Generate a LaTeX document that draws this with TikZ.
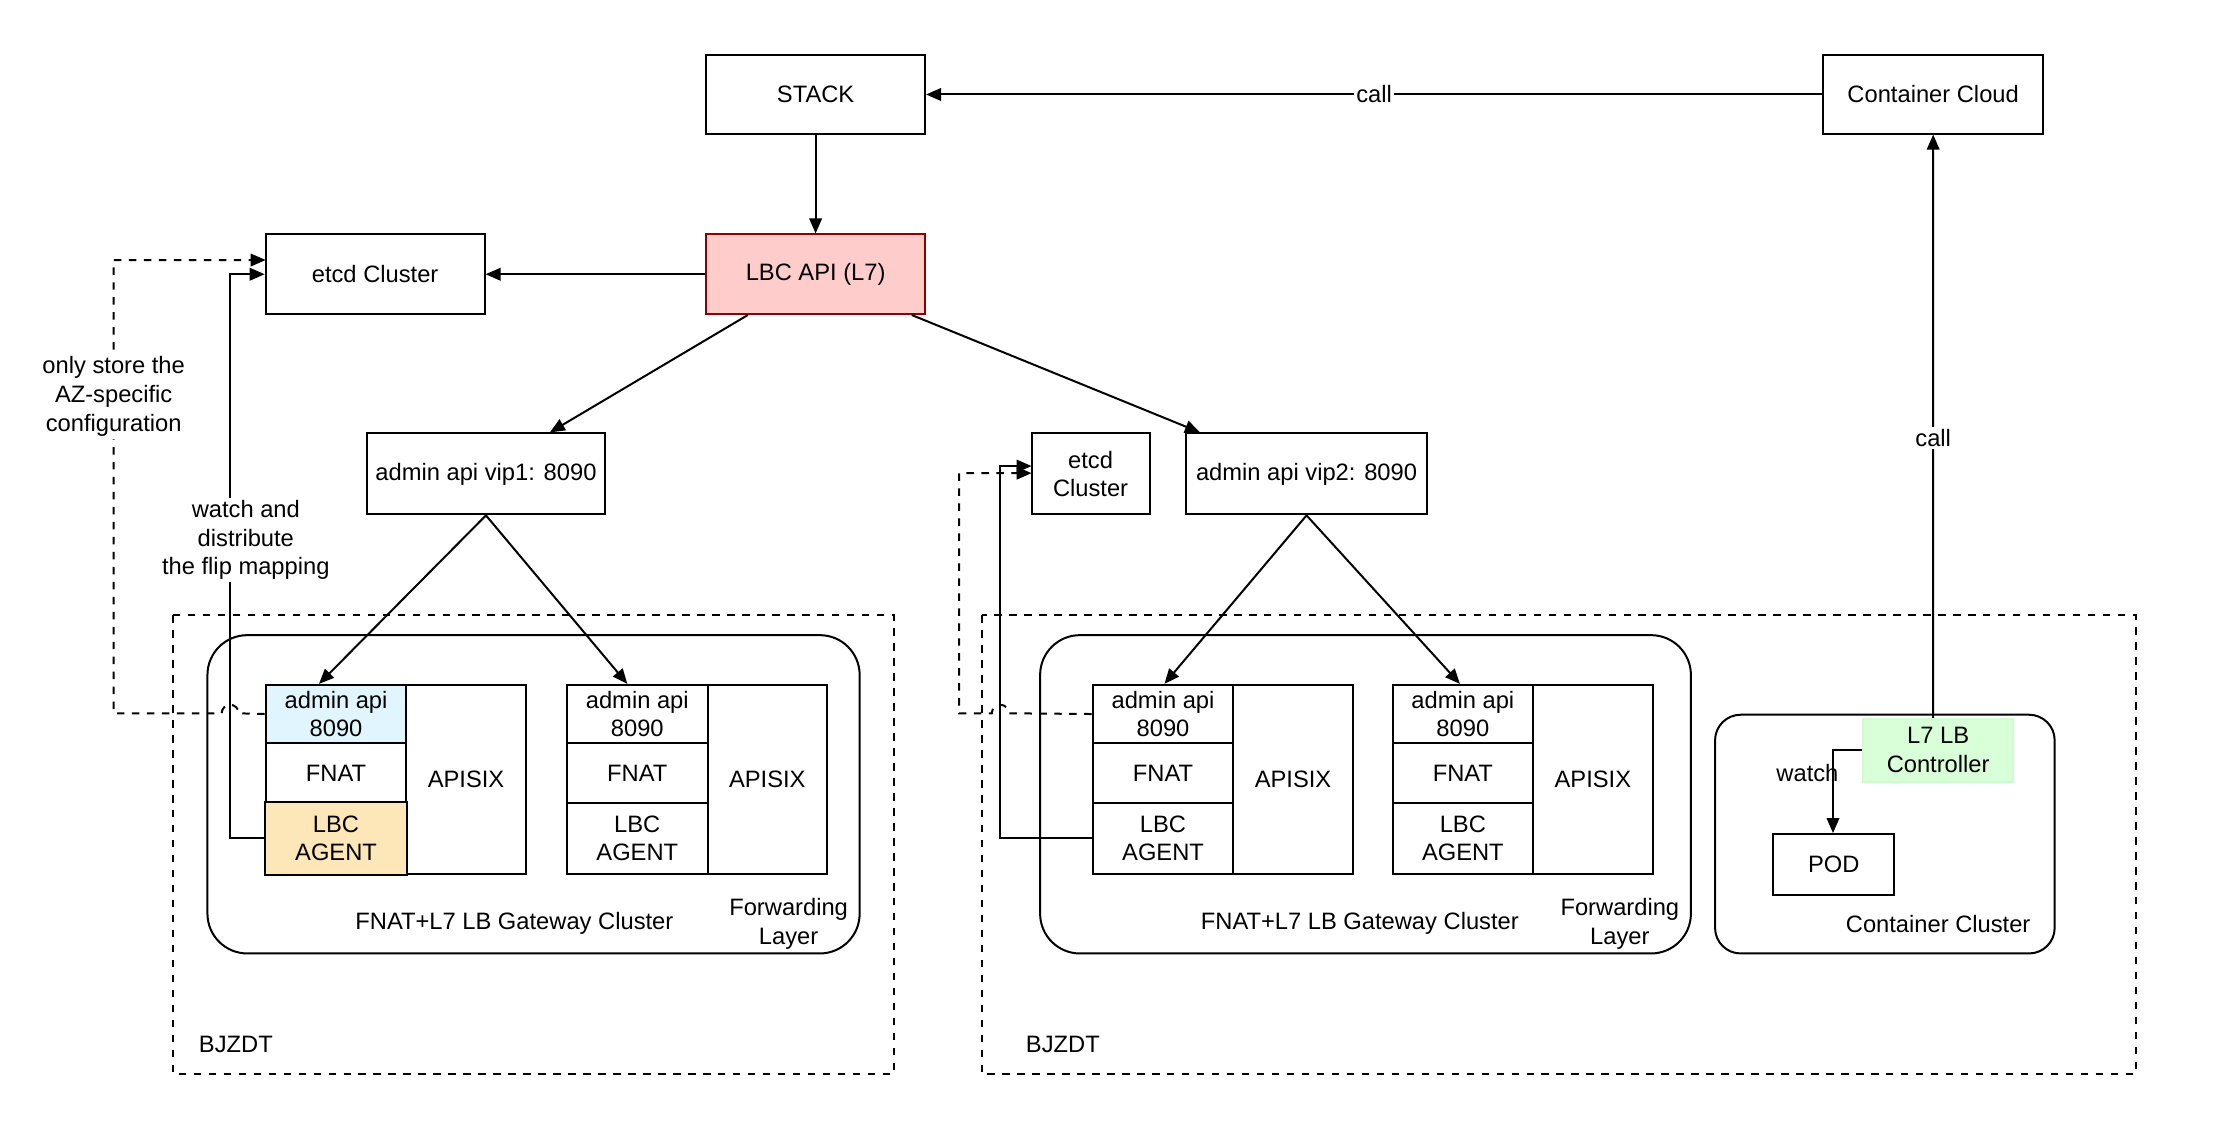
\documentclass[tikz,border=0pt]{standalone}
\usepackage{fontspec}
\setmainfont{Liberation Sans}
\usetikzlibrary{arrows.meta}
\def\u{0.02cm}
\begin{document}
\begin{tikzpicture}[x=0.02cm,y=-0.02cm,
  every node/.style={font=\fontsize{9.5}{11.5}\selectfont,align=center},
  box/.style={draw,thick,inner sep=0},
  sz/.style 2 args={minimum width=#1*\u,minimum height=#2*\u},
  arr/.style={thick,-{Triangle[length=6pt,width=5pt]}},
  lbl/.style={fill=white,inner sep=1pt}]
\useasboundingbox (0,0) rectangle (1568,805);
\fill[white] (0,0) rectangle (1568,805);
% dashed zones
\draw[dashed,thick] (122,433) rectangle (629,756);
\draw[dashed,thick] (691,433) rectangle (1503,756);
\node at (166,735) {BJZDT};
\node at (748,735) {BJZDT};
% rounded clusters
\draw[thick,rounded corners=28*\u] (146,447) rectangle (605,671);
\draw[thick,rounded corners=28*\u] (732,447) rectangle (1190,671);
\draw[thick,rounded corners=18*\u] (1207,503) rectangle (1446,671);
\node at (362,650) {FNAT+L7 LB Gateway Cluster};
\node at (555,650) {Forwarding\\Layer};
\node at (957,650) {FNAT+L7 LB Gateway Cluster};
\node at (1140,650) {Forwarding\\Layer};
\node at (1364,650) {Container Cluster};
% top boxes
\node[box,sz={154}{55}] (stack) at (574,66.5) {STACK};
\node[box,sz={155}{55}] (cc) at (1360.5,66.5) {Container Cloud};
\node[box,draw=red!55!black,fill=red!20,sz={154}{56}] (lbc) at (574,193) {LBC API (L7)};
\node[box,sz={154}{56}] (etcd) at (264,193) {etcd Cluster};
\node[box,sz={168}{57}] (vip1) at (342,333.5) {admin api vip1: 8090};
\node[box,sz={83}{57}] (etcd2) at (767.5,333.5) {etcd\\Cluster};
\node[box,sz={169}{57}] (vip2) at (919.5,333.5) {admin api vip2: 8090};
% gateway stacks
\foreach \n/\x/\c in {a/187/cyan!12,b/399/white,c/769/white,d/980/white}{
  \node[box,fill=\c,sz={99}{41}] (\n1) at (\x+49.5,502.5) {admin api\\8090};
  \node[box,sz={99}{42}] (\n2) at (\x+49.5,544) {FNAT};
  \node[box,sz={99}{50}] (\n3) at (\x+49.5,590) {LBC\\AGENT};
  \node[box,sz={84}{133}] (\n4) at (\x+141,548.5) {APISIX};
}
\fill[yellow!30!orange!25] (a3.north west) rectangle (a3.south east);
\draw[thick] (a3.north west) rectangle (a3.south east);
\node at (a3) {LBC\\AGENT};
% container parts
\node[box,draw=green!20,fill=green!15,sz={106}{44}] (ctl) at (1364,528) {L7 LB\\Controller};
\node[box,sz={85}{43}] (pod) at (1290.5,608.5) {POD};
% arrows
\draw[arr] (cc.west) -- node[lbl]{call} (stack.east);
\draw[arr] (stack) -- (lbc);
\draw[arr] (lbc) -- (etcd);
\draw[arr] ([xshift=30*\u]lbc.south west) -- ([xshift=45*\u]vip1.north);
\draw[arr] ([xshift=-10*\u]lbc.south east) -- ([xshift=-75*\u]vip2.north);
\draw[arr] (vip1.south) -- ([xshift=-12*\u]a1.north);
\draw[arr] (vip1.south) -- ([xshift=-7*\u]b1.north);
\draw[arr] (vip2.south) -- ([xshift=1*\u]c1.north);
\draw[arr] (vip2.south) -- ([xshift=-2*\u]d1.north);
\draw[arr] ([xshift=-3.5*\u]ctl.north) -- node[lbl,pos=0.48]{call} (cc.south);
\coordinate (w1) at (1290,528);
\draw[arr] (ctl.west) -- (w1) -- (w1 |- pod.north);
\node at (1272,544) {watch};
% left feedback lines
\draw[arr] (a3.west) -- (162,590) -- (162,193) -- (etcd.west);
\draw[arr,dashed] (a1.west) -- (168,502) arc (0:180:6*\u) -- (80,502) -- (80,183) -- (187,183);
\node[lbl] at (173,380) {watch and\\distribute\\the flip mapping};
\node[lbl] at (80,279) {only store the\\AZ-specific\\configuration};
% right feedback lines
\draw[arr] (c3.west) -- (704,590) -- (704,328) -- (726,328);
\draw[arr,dashed] (c1.west) -- (710,502) arc (0:180:6*\u) -- (675,502) -- (675,333) -- (726,333);
\end{tikzpicture}
\end{document}
